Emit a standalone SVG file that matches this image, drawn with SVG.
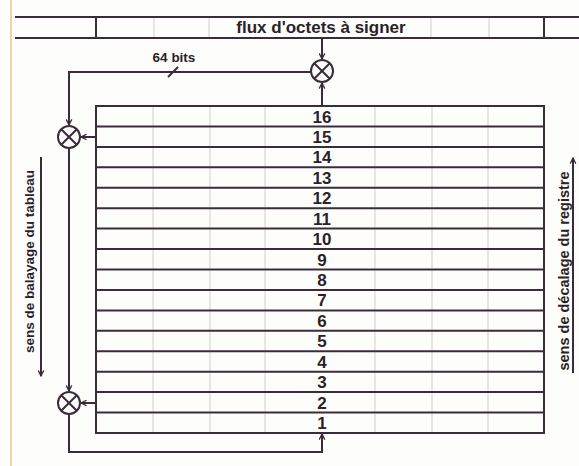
<svg xmlns="http://www.w3.org/2000/svg" width="579" height="466" viewBox="0 0 579 466">
<style>
.ln{stroke:#3a2c38;stroke-width:2;fill:none}
.fa{stroke:#cfcfcf;stroke-width:1;fill:none}
.t{font-family:"Liberation Sans",Arial,sans-serif;font-weight:bold;fill:#2a2228}
.num{font-size:17px;text-anchor:middle}
.lab{font-size:13.5px;text-anchor:middle}
.xor circle{fill:#fdfdfb;stroke:#3a2c38;stroke-width:2}
.xor path{stroke:#3a2c38;stroke-width:2}
</style>
<defs>
<marker id="ah" viewBox="0 0 10 10" refX="9" refY="5" markerWidth="7" markerHeight="7" orient="auto" markerUnits="userSpaceOnUse">
<path d="M1,1 L9,5 L1,9" fill="none" stroke="#3a2c38" stroke-width="1.8"/>
</marker>
</defs>
<rect width="579" height="466" fill="#fdfdfb"/>
<line x1="11" y1="0" x2="11" y2="466" stroke="#f2d3a4" stroke-width="2"/>

<g id="flux">
<line class="fa" x1="154" y1="17" x2="154" y2="38"/>
<line class="fa" x1="209" y1="17" x2="209" y2="38"/>
<line class="fa" x1="431" y1="17" x2="431" y2="38"/>
<line class="fa" x1="489" y1="17" x2="489" y2="38"/>
<line class="ln" x1="15" y1="17" x2="579" y2="17"/>
<line class="ln" x1="15" y1="38" x2="579" y2="38"/>
<line class="ln" x1="96" y1="17" x2="96" y2="38"/>
<line class="ln" x1="544" y1="17" x2="544" y2="38"/>
<text class="t" x="321" y="33" font-size="17" text-anchor="middle">flux d'octets à signer</text>
</g>

<g id="registre">
<line class="fa" x1="153" y1="106" x2="153" y2="433"/>
<line class="fa" x1="210" y1="106" x2="210" y2="433"/>
<line class="fa" x1="265" y1="106" x2="265" y2="433"/>
<line class="fa" x1="375" y1="106" x2="375" y2="433"/>
<line class="fa" x1="432" y1="106" x2="432" y2="433"/>
<line class="fa" x1="488" y1="106" x2="488" y2="433"/>
<rect class="ln" x="96" y="106" width="448" height="327"/>
<g class="ln">
<line x1="96" y1="126.4" x2="544" y2="126.4"/>
<line x1="96" y1="146.9" x2="544" y2="146.9"/>
<line x1="96" y1="167.3" x2="544" y2="167.3"/>
<line x1="96" y1="187.8" x2="544" y2="187.8"/>
<line x1="96" y1="208.2" x2="544" y2="208.2"/>
<line x1="96" y1="228.6" x2="544" y2="228.6"/>
<line x1="96" y1="249.1" x2="544" y2="249.1"/>
<line x1="96" y1="269.5" x2="544" y2="269.5"/>
<line x1="96" y1="289.9" x2="544" y2="289.9"/>
<line x1="96" y1="310.4" x2="544" y2="310.4"/>
<line x1="96" y1="330.8" x2="544" y2="330.8"/>
<line x1="96" y1="351.3" x2="544" y2="351.3"/>
<line x1="96" y1="371.7" x2="544" y2="371.7"/>
<line x1="96" y1="392.1" x2="544" y2="392.1"/>
<line x1="96" y1="412.6" x2="544" y2="412.6"/>
</g>
<g class="t num">
<text x="322" y="122.5">16</text>
<text x="322" y="142.9">15</text>
<text x="322" y="163.4">14</text>
<text x="322" y="183.8">13</text>
<text x="322" y="204.3">12</text>
<text x="322" y="224.7">11</text>
<text x="322" y="245.1">10</text>
<text x="322" y="265.6">9</text>
<text x="322" y="286">8</text>
<text x="322" y="306.4">7</text>
<text x="322" y="326.9">6</text>
<text x="322" y="347.3">5</text>
<text x="322" y="367.8">4</text>
<text x="322" y="388.2">3</text>
<text x="322" y="408.6">2</text>
<text x="322" y="429.1">1</text>
</g>
</g>

<g id="xor-top" class="xor">
<circle cx="322" cy="71" r="11"/>
<path d="M314.2,63.2 L329.8,78.8 M329.8,63.2 L314.2,78.8"/>
</g>
<g id="xor-left1" class="xor">
<circle cx="69" cy="137" r="11"/>
<path d="M61.2,129.2 L76.8,144.8 M76.8,129.2 L61.2,144.8"/>
</g>
<g id="xor-left2" class="xor">
<circle cx="69" cy="403" r="11"/>
<path d="M61.2,395.2 L76.8,410.8 M76.8,395.2 L61.2,410.8"/>
</g>

<g id="connectors">
<line class="ln" x1="322" y1="38" x2="322" y2="59" marker-end="url(#ah)"/>
<line class="ln" x1="322" y1="106" x2="322" y2="83" marker-end="url(#ah)"/>
<polyline class="ln" points="311,72 69,72 69,125" marker-end="url(#ah)"/>
<line class="ln" x1="168" y1="77" x2="178" y2="67"/>
<line class="ln" x1="96" y1="137" x2="81" y2="137" marker-end="url(#ah)"/>
<line class="ln" x1="69" y1="148" x2="69" y2="391" marker-end="url(#ah)"/>
<line class="ln" x1="96" y1="403" x2="81" y2="403" marker-end="url(#ah)"/>
<polyline class="ln" points="69,414 69,452 322,452 322,434" marker-end="url(#ah)"/>
<line class="ln" x1="41" y1="157" x2="41" y2="376" marker-end="url(#ah)"/>
<line class="ln" x1="573" y1="373" x2="573" y2="158" marker-end="url(#ah)"/>
</g>

<g id="labels">
<text class="t lab" x="174" y="62">64 bits</text>
<text class="t lab" transform="translate(34,261.5) rotate(-90)">sens de balayage du tableau</text>
<text class="t lab" font-size="14.5" style="font-size:14.5px" transform="translate(569,271) rotate(-90)">sens de décalage du registre</text>
</g>
</svg>
